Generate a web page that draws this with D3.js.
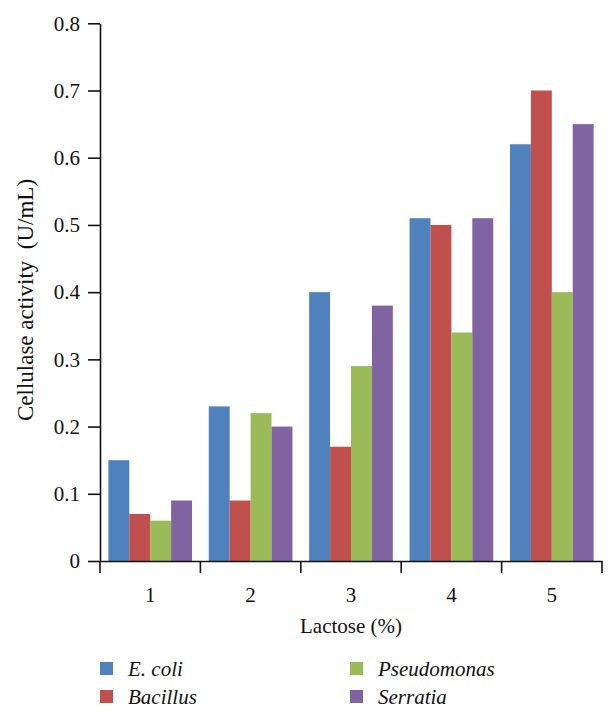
<!DOCTYPE html>
<html>
<head>
<meta charset="utf-8">
<script src="https://cdn.jsdelivr.net/npm/d3@7"></script>
<style>
  html, body { margin: 0; padding: 0; background: #fff; }
  svg { display: block; }
  text { font-family: "Liberation Serif", "Times New Roman", serif; fill: #111; }
</style>
</head>
<body>
<svg id="chart" width="616" height="717"></svg>
<script>
const categories = ["1", "2", "3", "4", "5"];
const seriesNames = ["E. coli", "Bacillus", "Pseudomonas", "Serratia"];
const ecoli = [0.15, 0.23, 0.40, 0.51, 0.62];
const bacillus = [0.07, 0.09, 0.17, 0.50, 0.70];
const pseudomonas = [0.06, 0.22, 0.29, 0.34, 0.40];
const serratia = [0.09, 0.20, 0.38, 0.51, 0.65];
const yTicks = [0, 0.1, 0.2, 0.3, 0.4, 0.5, 0.6, 0.7, 0.8];
const colors = ["#4F81BD", "#C0504D", "#9BBB59", "#8064A2"];
const xTitle = "Lactose (%)";
const yTitle = "Cellulase activity  (U/mL)";

const seriesValues = [ecoli, bacillus, pseudomonas, serratia];

const svg = d3.select("#chart");
const mLeft = 100, mRight = 602, mTop = 23.3, mBottom = 561;

const x = d3.scaleBand().domain(categories).range([mLeft, mRight]).paddingInner(0).paddingOuter(0);
const x1 = d3.scaleBand().domain(seriesNames).range([0, x.bandwidth()]).paddingOuter(0.4).paddingInner(0);
const y = d3.scaleLinear().domain([0, 0.8]).range([mBottom, mTop]);

// bars
const groups = svg.append("g").selectAll("g")
  .data(categories)
  .join("g")
  .attr("transform", d => `translate(${x(d)},0)`);

groups.selectAll("rect")
  .data((c, i) => seriesNames.map((s, j) => ({ s, j, v: seriesValues[j][i] })))
  .join("rect")
  .attr("x", d => x1(d.s))
  .attr("width", x1.bandwidth())
  .attr("y", d => y(d.v))
  .attr("height", d => y(0) - y(d.v))
  .attr("fill", d => colors[d.j]);

// y axis
const yAxis = svg.append("g")
  .attr("transform", `translate(${mLeft},0)`)
  .call(d3.axisLeft(y).tickValues(yTicks).tickFormat(d => d === 0 ? "0" : d3.format(".1f")(d)).tickSize(12).tickPadding(8).tickSizeOuter(0));
yAxis.select(".domain").attr("stroke", "#111").attr("stroke-width", 1.6);
yAxis.selectAll(".tick line").attr("stroke", "#111").attr("stroke-width", 1.6);
yAxis.selectAll(".tick text").attr("font-size", 21).attr("font-family", "Liberation Serif").attr("fill", "#111");

// x axis
const xAxis = svg.append("g")
  .attr("transform", `translate(0,${mBottom})`)
  .call(d3.axisBottom(x).tickSize(0).tickPadding(26).tickSizeOuter(0));
xAxis.select(".domain").attr("stroke", "#111").attr("stroke-width", 1.6);
xAxis.selectAll(".tick text").attr("font-size", 21).attr("font-family", "Liberation Serif").attr("fill", "#111");
// boundary ticks between categories
const boundaries = categories.map(c => x(c)).concat([x(categories[categories.length - 1]) + x.bandwidth()]);
xAxis.append("g").selectAll("line")
  .data(boundaries)
  .join("line")
  .attr("x1", d => d).attr("x2", d => d)
  .attr("y1", 0).attr("y2", 12)
  .attr("stroke", "#111").attr("stroke-width", 1.6);

// axis titles
svg.append("text")
  .attr("x", (mLeft + mRight) / 2)
  .attr("y", 633)
  .attr("text-anchor", "middle")
  .attr("font-size", 21)
  .text(xTitle);

svg.append("text")
  .attr("transform", `translate(33,300) rotate(-90)`)
  .attr("text-anchor", "middle")
  .attr("font-size", 23)
  .style("white-space", "pre")
  .text(yTitle);

// legend
const legendPos = [[100, 662], [100, 690], [350, 662], [350, 690]];
const legend = svg.append("g").selectAll("g")
  .data(seriesNames)
  .join("g")
  .attr("transform", (d, i) => `translate(${legendPos[i][0]},${legendPos[i][1]})`);
legend.append("rect")
  .attr("width", 13).attr("height", 13)
  .attr("fill", (d, i) => colors[i]);
legend.append("text")
  .attr("x", 28).attr("y", 14)
  .attr("font-size", 21)
  .attr("font-style", "italic")
  .text(d => d);
</script>
</body>
</html>
